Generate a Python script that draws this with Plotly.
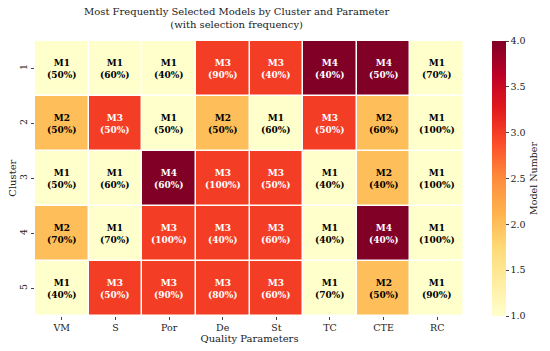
import plotly.graph_objects as go

params = ["VM", "S", "Por", "De", "St", "TC", "CTE", "RC"]
clusters = ["1", "2", "3", "4", "5"]
models = [
    [1, 1, 1, 3, 3, 4, 4, 1],
    [2, 3, 1, 2, 1, 3, 2, 1],
    [1, 1, 4, 3, 3, 1, 2, 1],
    [2, 1, 3, 3, 3, 1, 4, 1],
    [1, 3, 3, 3, 3, 1, 2, 1],
]
freqs = [
    [50, 60, 40, 90, 40, 40, 50, 70],
    [50, 50, 50, 50, 60, 50, 60, 100],
    [50, 60, 60, 100, 50, 40, 40, 100],
    [70, 70, 100, 40, 60, 40, 40, 100],
    [40, 50, 90, 80, 60, 70, 50, 90],
]

font_family = "DejaVu Serif"
xs = list(range(len(params)))
ys = list(range(len(clusters)))

fig = go.Figure(go.Heatmap(
    z=models, x=xs, y=ys,
    colorscale="YlOrRd", zmin=1, zmax=4,
    xgap=1.5, ygap=1.5,
    colorbar=dict(
        title=dict(text="Model Number", side="right", font=dict(size=9.5, family=font_family)),
        x=1.0645, xanchor="left", xref="paper",
        y=0.5, yanchor="middle", len=1.0, lenmode="fraction",
        thickness=14, outlinewidth=0, xpad=0, ypad=0,
        tickvals=[1, 1.5, 2, 2.5, 3, 3.5, 4],
        ticktext=["1.0", "1.5", "2.0", "2.5", "3.0", "3.5", "4.0"],
        ticks="outside", ticklen=3, tickfont=dict(size=9.5, family=font_family),
    ),
    hoverinfo="skip",
))

annotations = []
for i in ys:
    for j in xs:
        m = models[i][j]
        annotations.append(dict(
            x=j, y=i, xref="x", yref="y",
            text=f"<b>M{m}<br>({freqs[i][j]}%)</b>",
            showarrow=False,
            font=dict(size=9, family=font_family, color="white" if m >= 3 else "black"),
        ))

annotations.append(dict(
    text="Most Frequently Selected Models by Cluster and Parameter<br>(with selection frequency)",
    x=0.47, xref="paper", xanchor="center",
    y=1.135, yref="paper", yanchor="top",
    showarrow=False,
    font=dict(size=10, family=font_family, color="#222"),
))
annotations.append(dict(
    text="Cluster", textangle=-90,
    x=-0.053, xref="paper", xanchor="center",
    y=0.5, yref="paper", yanchor="middle",
    showarrow=False,
    font=dict(size=10, family=font_family, color="#222"),
))

fig.update_layout(
    width=550, height=351,
    margin=dict(l=35, r=81, t=41, b=35),
    paper_bgcolor="white", plot_bgcolor="white",
    font=dict(family=font_family, color="#222"),
    xaxis=dict(
        title=dict(text="Quality Parameters", font=dict(size=10), standoff=0),
        tickvals=xs, ticktext=params, range=[-0.5, len(params) - 0.5],
        tickfont=dict(size=9.5), ticks="outside", ticklen=3, showgrid=False, zeroline=False,
        automargin=False,
    ),
    yaxis=dict(
        tickvals=ys, ticktext=clusters, range=[len(clusters) - 0.5, -0.5],
        tickangle=-90,
        tickfont=dict(size=9.5), ticks="outside", ticklen=3, showgrid=False, zeroline=False,
        automargin=False,
    ),
    annotations=annotations,
)

fig.write_html("out.html", config={"displayModeBar": False},
               post_script="document.body.style.margin='0';")
